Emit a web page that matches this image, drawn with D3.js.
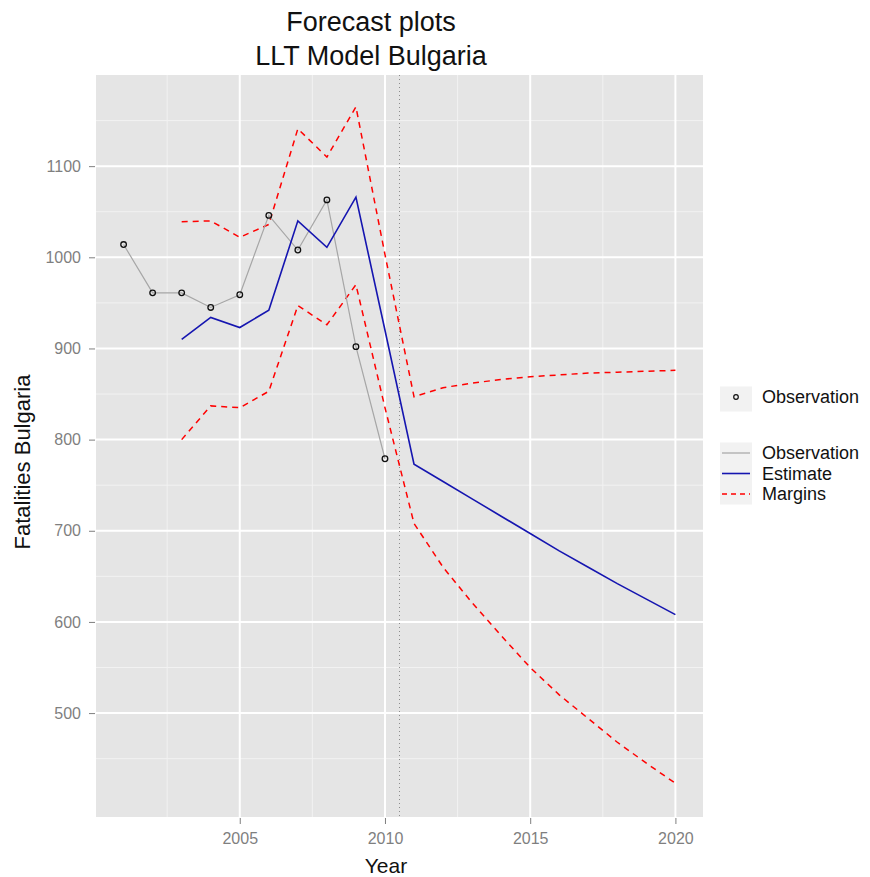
<!DOCTYPE html>
<html>
<head>
<meta charset="utf-8">
<script src="https://cdn.jsdelivr.net/npm/d3@7"></script>
<style>
  body { margin: 0; background: #fff; }
  svg { font-family: 'Liberation Sans', Arial, sans-serif; }
  .tick text { fill: #7f7f7f; }
  .tick line { stroke: #7f7f7f; }
</style>
</head>
<body>
<svg width="870" height="877"></svg>
<script>
(function (d3) {
  'use strict';

  // observed fatalities
  const obsYears = [2001, 2002, 2003, 2004, 2005, 2006, 2007, 2008, 2009, 2010];
  const obsValues = [1014, 961, 961, 945, 959, 1046, 1008, 1063, 902, 779];

  // model estimate + margins, 2003..2020
  const fcYears = [2003, 2004, 2005, 2006, 2007, 2008, 2009, 2010, 2011, 2012,
    2013, 2014, 2015, 2016, 2017, 2018, 2019, 2020];
  const estimate = [910, 934, 923, 942, 1040, 1011, 1066, 920, 773, 754,
    735, 716, 697, 678, 660, 642, 625, 608];
  const upper = [1039, 1040, 1022, 1036, 1141, 1110, 1165, 1003, 847, 857,
    862, 866, 869, 871, 873, 874, 875, 876];
  const lower = [800, 837, 835, 853, 947, 926, 970, 835, 708, 660,
    621, 585, 550, 520, 494, 468, 445, 423];

  const forecastStart = 2010.5;
  const xTicks = [2005, 2010, 2015, 2020];
  const yTicks = [500, 600, 700, 800, 900, 1000, 1100];

  const svg = d3.select('svg');
  const panel = { left: 96, right: 703, top: 75, bottom: 817 };

  const x = d3.scaleLinear().domain([2000.05, 2020.95]).range([panel.left, panel.right]);
  const y = d3.scaleLinear().domain([386, 1200]).range([panel.bottom, panel.top]);

  // panel background + grid
  svg.append('rect')
    .attr('x', panel.left).attr('y', panel.top)
    .attr('width', panel.right - panel.left)
    .attr('height', panel.bottom - panel.top)
    .attr('fill', '#e5e5e5');

  const grid = svg.append('g');
  const minorX = xTicks.map(d => d - 2.5);
  const minorY = yTicks.map(d => d - 50).concat([1150]);

  grid.selectAll('.minor-x').data(minorX).enter().append('line')
    .attr('x1', x).attr('x2', x)
    .attr('y1', panel.top).attr('y2', panel.bottom)
    .attr('stroke', '#f2f2f2').attr('stroke-width', 1);
  grid.selectAll('.minor-y').data(minorY).enter().append('line')
    .attr('y1', y).attr('y2', y)
    .attr('x1', panel.left).attr('x2', panel.right)
    .attr('stroke', '#f2f2f2').attr('stroke-width', 1);
  grid.selectAll('.major-x').data(xTicks).enter().append('line')
    .attr('x1', x).attr('x2', x)
    .attr('y1', panel.top).attr('y2', panel.bottom)
    .attr('stroke', '#fff').attr('stroke-width', 2);
  grid.selectAll('.major-y').data(yTicks).enter().append('line')
    .attr('y1', y).attr('y2', y)
    .attr('x1', panel.left).attr('x2', panel.right)
    .attr('stroke', '#fff').attr('stroke-width', 2);

  // axes
  const xAxis = d3.axisBottom(x).tickValues(xTicks).tickFormat(d3.format('d'))
    .tickSize(6).tickPadding(9);
  const yAxis = d3.axisLeft(y).tickValues(yTicks).tickFormat(d3.format('d'))
    .tickSize(6).tickPadding(8);

  svg.append('g')
    .attr('transform', `translate(0,${panel.bottom + 1})`)
    .call(xAxis)
    .call(g => g.select('.domain').remove())
    .selectAll('text').attr('font-size', 16);

  svg.append('g')
    .attr('transform', `translate(${panel.left - 1},0)`)
    .call(yAxis)
    .call(g => g.select('.domain').remove())
    .selectAll('text').attr('font-size', 16);

  // forecast boundary
  svg.append('line')
    .attr('x1', x(forecastStart)).attr('x2', x(forecastStart))
    .attr('y1', panel.top).attr('y2', panel.bottom)
    .attr('stroke', '#8c8c8c').attr('stroke-width', 1)
    .attr('stroke-dasharray', '1,3');

  const line = d3.line().x(d => x(d[0])).y(d => y(d[1]));
  const pairs = (xs, vs) => xs.map((d, i) => [d, vs[i]]);

  const plot = svg.append('g');
  plot.append('path').datum(pairs(fcYears, upper))
    .attr('d', line).attr('fill', 'none')
    .attr('stroke', '#ff0000').attr('stroke-width', 1.5)
    .attr('stroke-dasharray', '6,5');
  plot.append('path').datum(pairs(fcYears, lower))
    .attr('d', line).attr('fill', 'none')
    .attr('stroke', '#ff0000').attr('stroke-width', 1.5)
    .attr('stroke-dasharray', '6,5');
  plot.append('path').datum(pairs(obsYears, obsValues))
    .attr('d', line).attr('fill', 'none')
    .attr('stroke', '#a6a6a6').attr('stroke-width', 1.2);
  plot.append('path').datum(pairs(fcYears, estimate))
    .attr('d', line).attr('fill', 'none')
    .attr('stroke', '#1515b0').attr('stroke-width', 1.6);

  plot.selectAll('circle').data(pairs(obsYears, obsValues))
    .enter().append('circle')
    .attr('cx', d => x(d[0]))
    .attr('cy', d => y(d[1]))
    .attr('r', 2.8)
    .attr('fill', 'none')
    .attr('stroke', '#111')
    .attr('stroke-width', 1.3);

  // titles
  const title = svg.append('g').attr('fill', '#111').attr('font-size', 27)
    .attr('text-anchor', 'middle');
  title.append('text').attr('x', 371).attr('y', 31).text('Forecast plots');
  title.append('text').attr('x', 371).attr('y', 65).text('LLT Model Bulgaria');

  svg.append('text')
    .attr('x', 386).attr('y', 873)
    .attr('text-anchor', 'middle').attr('font-size', 21).attr('fill', '#111')
    .text('Year');

  svg.append('text')
    .attr('transform', `translate(30,${(panel.top + panel.bottom) / 2 + 16}) rotate(-90)`)
    .attr('text-anchor', 'middle').attr('font-size', 22).attr('fill', '#111')
    .text('Fatalities Bulgaria');

  // legends
  const keyX = 720, keyW = 32, keyH = 21, textX = 762;
  const legend = svg.append('g').attr('font-size', 18).attr('fill', '#111');

  legend.append('rect')
    .attr('x', keyX).attr('y', 397 - keyH / 2).attr('width', keyW).attr('height', keyH + 4)
    .attr('fill', '#f2f2f2');
  legend.append('circle')
    .attr('cx', keyX + keyW / 2).attr('cy', 397).attr('r', 2.3)
    .attr('fill', 'none').attr('stroke', '#111').attr('stroke-width', 1.2);
  legend.append('text').attr('x', textX).attr('y', 397).attr('dy', '0.35em')
    .text('Observation');

  const lineKeys = [
    { label: 'Observation', color: '#a6a6a6', dash: null, width: 1.2 },
    { label: 'Estimate', color: '#1515b0', dash: null, width: 1.6 },
    { label: 'Margins', color: '#ff0000', dash: '5,4', width: 1.5 }
  ];
  const keyY = d3.scalePoint().domain(lineKeys.map(d => d.label)).range([453, 494]);

  const items = legend.selectAll('.item').data(lineKeys).enter().append('g')
    .attr('transform', d => `translate(0,${keyY(d.label)})`);
  items.append('rect')
    .attr('x', keyX).attr('y', -keyH / 2).attr('width', keyW).attr('height', keyH)
    .attr('fill', '#f2f2f2');
  items.append('line')
    .attr('x1', keyX + 2).attr('x2', keyX + keyW - 2)
    .attr('stroke', d => d.color).attr('stroke-width', d => d.width)
    .attr('stroke-dasharray', d => d.dash);
  items.append('text').attr('x', textX).attr('dy', '0.35em').text(d => d.label);

}(d3));
</script>
</body>
</html>
